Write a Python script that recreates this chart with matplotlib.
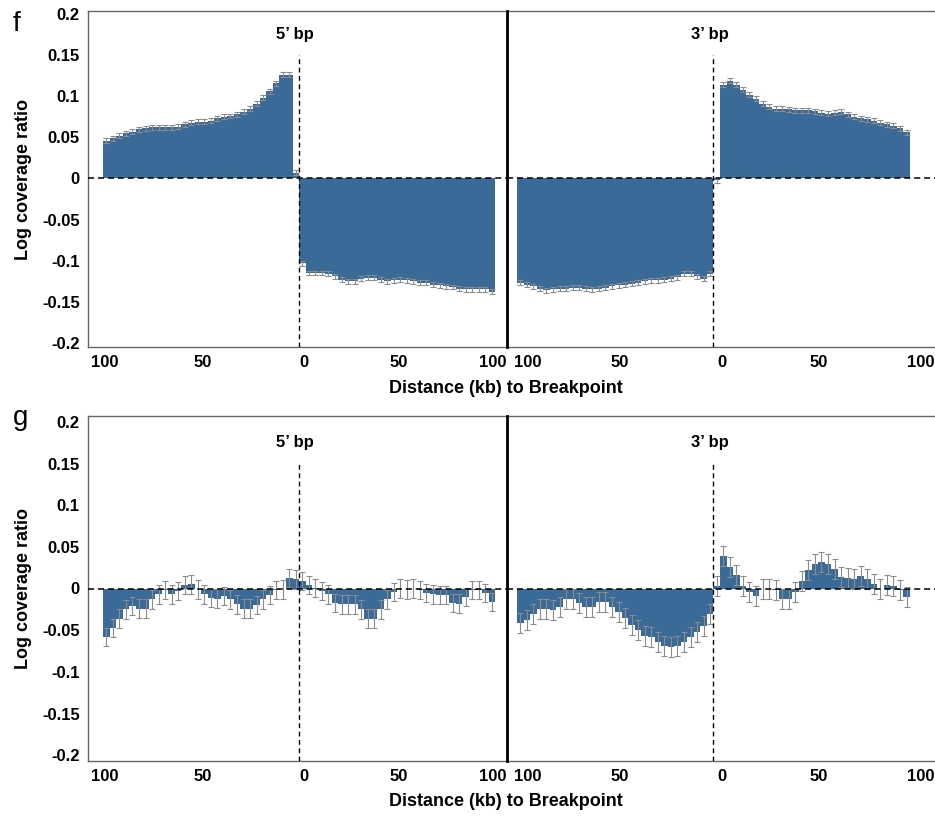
import matplotlib
matplotlib.use('Agg')
import matplotlib.pyplot as plt
import numpy as np

plt.rcParams['font.family'] = ['Liberation Sans', 'DejaVu Sans']
plt.rcParams['font.weight'] = 'bold'

# 30 bins of ~3.3 kb on each side of a breakpoint
# "up" = 100 kb -> 0 (left of breakpoint), "down" = 0 -> 100 kb
f_5p_up = [0.046, 0.049, 0.052, 0.055, 0.057, 0.060, 0.061, 0.062, 0.062, 0.062,
           0.062, 0.063, 0.066, 0.068, 0.069, 0.069, 0.070, 0.073, 0.075, 0.076,
           0.078, 0.081, 0.085, 0.091, 0.098, 0.106, 0.116, 0.126, 0.126, 0.007]
f_5p_down = [-0.103, -0.115, -0.115, -0.115, -0.116, -0.119, -0.123, -0.125, -0.125, -0.122,
             -0.121, -0.121, -0.123, -0.125, -0.124, -0.123, -0.124, -0.125, -0.127, -0.127,
             -0.129, -0.130, -0.131, -0.132, -0.134, -0.135, -0.135, -0.135, -0.135, -0.138]
f_3p_up = [-0.127, -0.129, -0.131, -0.134, -0.136, -0.135, -0.134, -0.134, -0.133, -0.133,
           -0.134, -0.135, -0.134, -0.133, -0.131, -0.130, -0.129, -0.128, -0.127, -0.125,
           -0.124, -0.124, -0.123, -0.122, -0.120, -0.116, -0.116, -0.119, -0.122, -0.116]
f_3p_down = [-0.002, 0.114, 0.119, 0.114, 0.108, 0.102, 0.097, 0.091, 0.087, 0.085,
             0.085, 0.084, 0.083, 0.083, 0.083, 0.082, 0.080, 0.079, 0.080, 0.081,
             0.078, 0.075, 0.073, 0.072, 0.070, 0.068, 0.066, 0.064, 0.061, 0.056]

g_5p_up = [-0.058, -0.047, -0.036, -0.025, -0.021, -0.024, -0.024, -0.013, -0.007, -0.002,
           -0.007, -0.003, 0.004, 0.005, -0.001, -0.007, -0.011, -0.012, -0.009, -0.013,
           -0.019, -0.024, -0.024, -0.020, -0.013, -0.008, -0.002, -0.001, 0.013, 0.011]
g_5p_down = [0.009, 0.004, 0.001, -0.003, -0.007, -0.017, -0.019, -0.019, -0.019, -0.025,
             -0.036, -0.036, -0.025, -0.013, -0.004, 0.000, -0.001, 0.000, -0.002, -0.005,
             -0.007, -0.008, -0.008, -0.017, -0.018, -0.010, -0.002, -0.002, -0.005, -0.016]
g_3p_up = [-0.041, -0.038, -0.031, -0.024, -0.024, -0.026, -0.022, -0.013, -0.013, -0.017,
           -0.022, -0.022, -0.016, -0.016, -0.022, -0.028, -0.035, -0.044, -0.050, -0.057,
           -0.058, -0.064, -0.069, -0.070, -0.069, -0.064, -0.058, -0.052, -0.045, -0.031]
g_3p_down = [0.003, 0.039, 0.026, 0.016, 0.003, -0.004, -0.009, -0.001, 0.000, -0.002,
             -0.013, -0.013, -0.004, 0.009, 0.022, 0.029, 0.032, 0.030, 0.023, 0.014,
             0.013, 0.011, 0.015, 0.011, 0.006, 0.000, 0.004, 0.003, -0.002, -0.010]

# typical standard error
f_err = 0.003
g_err_5p = 0.011
g_err_3p = 0.012

xtick_labels = ['100', '50', '0', '50', '100']
# tick label positions (kb) as placed in the original, slightly off the bins
xticks_5p = [-99, -49, 2.5, 51, 99]
xticks_3p = [-94.5, -47.5, 4.5, 53.5, 105.5]
yticks = [0.2, 0.15, 0.1, 0.05, 0, -0.05, -0.1, -0.15, -0.2]
ytick_labels = ['0.2', '0.15', '0.1', '0.05', '0', '-0.05', '-0.1', '-0.15', '-0.2']

BAR = '#3a6a98'
ERR = '#8c8c8c'
FRAME = '#666666'
W, H = 935, 818


def draw_half(ax, up, down, err, title, xlim, ylim, xticks, first):
    nb = len(up)
    bw = 100.0 / nb
    xu = -100 + bw * (np.arange(nb) + 0.5)
    xd = bw * (np.arange(len(down)) + 0.5)
    for xs, vals in ((xu, up), (xd, down)):
        ax.bar(xs, vals, width=bw, color=BAR, linewidth=0, zorder=2)
        ax.errorbar(xs, vals, yerr=err, fmt='none', ecolor=ERR, elinewidth=0.8,
                    capsize=2, capthick=0.8, zorder=3)
    ax.axhline(0, color='k', lw=1.1, ls=(0, (4, 2.5)), zorder=4)
    ax.plot([0, 0], [ylim[0], 0.15], color='k', lw=1, ls=(0, (3.5, 2.5)), zorder=4)
    ax.text(-2, 0.175, title, ha='center', va='center', fontsize=12, fontweight='bold')
    ax.set_xlim(*xlim)
    ax.set_ylim(*ylim)
    ax.set_xticks(xticks)
    ax.set_xticklabels(xtick_labels, fontsize=12, fontweight='bold')
    ax.tick_params(length=0, pad=6)
    if first:
        ax.set_yticks(yticks)
        ax.set_yticklabels(ytick_labels, fontsize=12, fontweight='bold')
        ax.spines['right'].set_color('k')
        ax.spines['right'].set_linewidth(2)
        ax.spines['right'].set_zorder(6)
        for s in ('left', 'top', 'bottom'):
            ax.spines[s].set_color(FRAME)
            ax.spines[s].set_linewidth(1)
    else:
        ax.patch.set_visible(False)
        ax.set_yticks([])
        ax.spines['left'].set_visible(False)
        ax.spines['right'].set_visible(False)
        for s in ('top', 'bottom'):
            ax.spines[s].set_color(FRAME)
            ax.spines[s].set_linewidth(1)


fig = plt.figure(figsize=(W / 100, H / 100), dpi=100)

panels = [
    ('f', 31, f_5p_up, f_5p_down, f_3p_up, f_3p_down, f_err, f_err, 11, 347, (-0.205, 0.2037)),
    ('g', 425, g_5p_up, g_5p_down, g_3p_up, g_3p_down, g_err_5p, g_err_3p, 416, 761, (-0.207, 0.207)),
]

x_left, x_mid, x_right = 88, 507, 935
for letter, base, u5, d5, u3, d3, e5, e3, top, bot, ylim in panels:
    b = 1 - bot / H
    h = (bot - top) / H
    ax5 = fig.add_axes([x_left / W, b, (x_mid - x_left) / W, h])
    ax3 = fig.add_axes([x_mid / W, b, (x_right - x_mid) / W, h])
    ax3.set_zorder(ax5.get_zorder() - 1)
    draw_half(ax5, u5, d5, e5, '5\u2019 bp', (-107.7, 106.1), ylim, xticks_5p, True)
    draw_half(ax3, u3, d3, e3, '3\u2019 bp', (-105.1, 112.8), ylim, xticks_3p, False)
    ax5.patch.set_visible(False)

    fig.text(13 / W, 1 - base / H, letter, fontsize=20, fontweight='normal',
             ha='left', va='baseline')
    fig.text(24 / W, 1 - (top + bot) / 2 / H, 'Log coverage ratio', rotation=90,
             ha='center', va='center', fontsize=13, fontweight='bold')
    fig.text(506 / W, 1 - (bot + 41) / H, 'Distance (kb) to Breakpoint',
             ha='center', va='center', fontsize=13, fontweight='bold')

fig.patch.set_facecolor('white')
fig.savefig('out.png', dpi=100, facecolor='white')
